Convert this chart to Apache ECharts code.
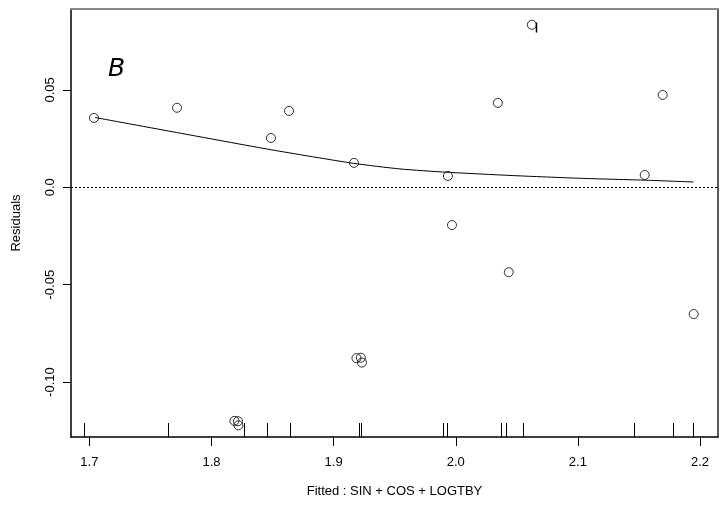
<!DOCTYPE html>
<html>
<head>
<meta charset="utf-8">
<script src="https://cdn.jsdelivr.net/npm/echarts@6/dist/echarts.min.js"></script>
<style>html,body{margin:0;padding:0;background:#fff;}#c{width:725px;height:508px;}</style>
</head>
<body>
<div id="c"></div>
<script>
// Residual points (fitted value, residual)
var fittedX = [1.7038, 1.7718, 1.8188, 1.8217, 1.8221, 1.8487, 1.8635, 1.9167, 1.9187, 1.9223, 1.9232, 1.9936, 1.9969, 2.0344, 2.0434, 2.0623, 2.1547, 2.1694, 2.1948];
var residualY = [0.0356, 0.0408, -0.1199, -0.1201, -0.1222, 0.0253, 0.0392, 0.0125, -0.0877, -0.0875, -0.0900, 0.0058, -0.0194, 0.0433, -0.0436, 0.0834, 0.0063, 0.0474, -0.0651];
// Smooth (lowess) curve
var smoothX = [1.7047, 1.7715, 1.8493, 1.9160, 1.9543, 1.9927, 2.0467, 2.1015, 2.1563, 2.1947];
var smoothY = [0.0358, 0.0281, 0.0192, 0.0123, 0.0094, 0.0077, 0.0060, 0.0046, 0.0036, 0.0027];
// Rug marks along the x axis
var rugX = [1.6957, 1.7646, 1.8263, 1.8452, 1.8642, 1.9210, 1.9226, 1.9897, 1.9925, 2.0367, 2.0408, 2.0547, 2.1457, 2.1779, 2.1943];
// Small vertical mark next to the top point
var markX = [2.0661, 2.0661];
var markY = [0.0846, 0.0794];
// Tick labels
var xTicks = [1.7, 1.8, 1.9, 2.0, 2.1, 2.2];
var xTickLabels = ['1.7', '1.8', '1.9', '2.0', '2.1', '2.2'];
var yTicks = [-0.10, -0.05, 0.0, 0.05];
var yTickLabels = ['-0.10', '-0.05', '0.0', '0.05'];

var X_MIN = 1.685, X_MAX = 2.2147, Y_MIN = -0.1282, Y_MAX = 0.0915;
var FONT = 'Liberation Sans, Arial, sans-serif';

function xLabel(v) { var i = xTicks.findIndex(function (t) { return Math.abs(t - v) < 1e-9; }); return i >= 0 ? xTickLabels[i] : ''; }
function yLabel(v) { var i = yTicks.findIndex(function (t) { return Math.abs(t - v) < 1e-9; }); return i >= 0 ? yTickLabels[i] : ''; }

var chart = echarts.init(document.getElementById('c'), null, { renderer: 'canvas' });
chart.setOption({
  animation: false,
  backgroundColor: '#fff',
  grid: { left: 71, top: 9, right: 7, bottom: 71, containLabel: false },
  xAxis: [{
    type: 'value', min: X_MIN, max: X_MAX, position: 'bottom',
    name: 'Fitted : SIN + COS + LOGTBY', nameLocation: 'middle', nameGap: 48,
    nameTextStyle: { fontFamily: FONT, fontSize: 13, color: '#000' },
    axisLine: { show: true, onZero: false, lineStyle: { color: '#000', width: 1.5 } },
    axisTick: { show: true, customValues: xTicks, length: 9, inside: false, lineStyle: { color: '#000', width: 1 } },
    axisLabel: { show: true, customValues: xTicks, formatter: xLabel, margin: 19, fontFamily: FONT, fontSize: 13, color: '#000' },
    splitLine: { show: false }
  }, {
    type: 'value', min: X_MIN, max: X_MAX, position: 'top',
    axisLine: { show: true, onZero: false, lineStyle: { color: '#888', width: 2 } },
    axisTick: { show: false }, axisLabel: { show: false }, splitLine: { show: false }
  }],
  yAxis: [{
    type: 'value', min: Y_MIN, max: Y_MAX, position: 'left',
    name: 'Residuals', nameLocation: 'middle', nameGap: 48,
    nameTextStyle: { fontFamily: FONT, fontSize: 13, color: '#000' },
    axisLine: { show: true, onZero: false, lineStyle: { color: '#000', width: 1.5 } },
    axisTick: { show: true, customValues: yTicks, length: 8, lineStyle: { color: '#000', width: 1 } },
    axisLabel: { show: true, customValues: yTicks, formatter: yLabel, rotate: 90, margin: 14, fontFamily: FONT, fontSize: 13, color: '#000' },
    splitLine: { show: false }
  }, {
    type: 'value', min: Y_MIN, max: Y_MAX, position: 'right',
    axisLine: { show: true, onZero: false, lineStyle: { color: '#222', width: 1.5 } },
    axisTick: { show: false }, axisLabel: { show: false }, splitLine: { show: false }
  }],
  graphic: [{
    type: 'text', left: 108, top: 57,
    style: { text: 'B', font: 'oblique 25px "DejaVu Sans", sans-serif', fill: '#000' }
  }],
  series: [{
    type: 'line', name: 'smooth', xAxisIndex: 0, yAxisIndex: 0,
    data: smoothX.map(function (x, i) { return [x, smoothY[i]]; }),
    showSymbol: false, smooth: 0.2,
    lineStyle: { color: '#000', width: 1 },
    markLine: {
      silent: true, symbol: ['none', 'none'], label: { show: false },
      lineStyle: { color: '#000', width: 1, type: [2, 2] },
      data: [{ yAxis: 0 }]
    },
    z: 3
  }, {
    type: 'scatter', name: 'residuals', xAxisIndex: 0, yAxisIndex: 0,
    data: fittedX.map(function (x, i) { return [x, residualY[i]]; }),
    symbol: 'circle', symbolSize: 9,
    itemStyle: { color: 'rgba(255,255,255,0)', borderColor: '#000', borderWidth: 1 },
    z: 4
  }, {
    type: 'line', name: 'mark', xAxisIndex: 0, yAxisIndex: 0,
    data: markX.map(function (x, i) { return [x, markY[i]]; }),
    showSymbol: false, lineStyle: { color: '#000', width: 1.5 }, z: 4
  }, {
    type: 'custom', name: 'rug', xAxisIndex: 0, yAxisIndex: 0,
    data: rugX.map(function (x) { return [x]; }),
    renderItem: function (params, api) {
      var p = api.coord([api.value(0), Y_MIN]);
      return {
        type: 'line',
        shape: { x1: Math.round(p[0]) + 0.5, y1: p[1], x2: Math.round(p[0]) + 0.5, y2: p[1] - 14 },
        style: { stroke: '#000', lineWidth: 1 }
      };
    },
    z: 3
  }]
});
</script>
</body>
</html>
